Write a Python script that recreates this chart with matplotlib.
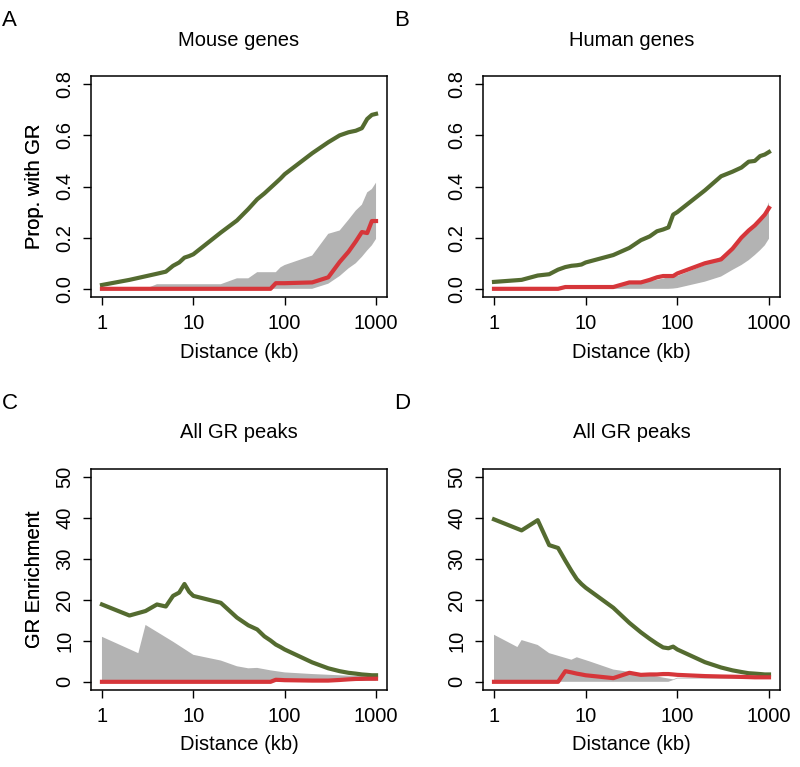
import numpy as np
import matplotlib
matplotlib.use("Agg")
import matplotlib.pyplot as plt

plt.rcParams['font.family'] = ['Liberation Sans', 'DejaVu Sans']

# ---------------- data ----------------
dist = [1, 2, 3, 4, 5, 6, 7, 8, 9, 10, 20, 30, 40, 50, 60, 70, 80, 90, 100,
        200, 300, 400, 500, 600, 700, 800, 900, 1000]

# Panel A: Mouse genes (proportion with GR)
mouse_obs = [0.015, 0.035, 0.049, 0.059, 0.067, 0.090, 0.103, 0.122, 0.128, 0.135,
             0.220, 0.267, 0.312, 0.350, 0.373, 0.395, 0.414, 0.431, 0.448,
             0.530, 0.573, 0.600, 0.612, 0.618, 0.628, 0.664, 0.680, 0.684]
mouse_ctrl = [0, 0, 0, 0, 0, 0, 0, 0, 0, 0,
              0, 0, 0, 0, 0, 0, 0.022, 0.022, 0.022,
              0.025, 0.045, 0.105, 0.145, 0.185, 0.222, 0.218, 0.265, 0.265]
mouse_hi = [0, 0, 0, 0.018, 0.018, 0.018, 0.018, 0.018, 0.018, 0.018,
            0.018, 0.041, 0.041, 0.065, 0.065, 0.065, 0.065, 0.084, 0.093,
            0.130, 0.215, 0.228, 0.270, 0.306, 0.329, 0.377, 0.390, 0.415]
mouse_lo = [0, 0, 0, 0, 0, 0, 0, 0, 0, 0,
            0, 0, 0, 0, 0, 0, 0, 0, 0,
            0, 0.020, 0.050, 0.080, 0.100, 0.125, 0.150, 0.170, 0.195]

# Panel B: Human genes
human_obs = [0.027, 0.035, 0.052, 0.057, 0.075, 0.085, 0.090, 0.092, 0.095, 0.103,
             0.132, 0.160, 0.190, 0.205, 0.225, 0.232, 0.240, 0.290, 0.300,
             0.385, 0.440, 0.458, 0.474, 0.497, 0.500, 0.519, 0.525, 0.535]
human_ctrl = [0, 0, 0, 0, 0, 0.007, 0.007, 0.007, 0.007, 0.007,
              0.007, 0.025, 0.025, 0.035, 0.045, 0.050, 0.050, 0.050, 0.060,
              0.100, 0.115, 0.157, 0.200, 0.228, 0.248, 0.270, 0.290, 0.316]
human_hi = [0, 0, 0, 0, 0, 0, 0, 0, 0, 0,
            0.012, 0.020, 0.025, 0.030, 0.035, 0.040, 0.045, 0.048, 0.050,
            0.093, 0.125, 0.160, 0.190, 0.222, 0.248, 0.274, 0.300, 0.338]
human_lo = [0, 0, 0, 0, 0, 0, 0, 0, 0, 0,
            0, 0, 0, 0, 0, 0, 0, 0.001, 0.003,
            0.028, 0.048, 0.074, 0.093, 0.112, 0.132, 0.151, 0.170, 0.196]

# Panel C: All GR peaks (enrichment)
peaksC_obs = [18.9, 16.2, 17.3, 18.9, 18.4, 21.0, 21.8, 23.9, 22.0, 21.0,
              19.3, 15.7, 13.8, 12.8, 11.1, 10.1, 9.1, 8.5, 7.9,
              4.75, 3.3, 2.6, 2.2, 2.0, 1.8, 1.7, 1.6, 1.6]
peaksC_ctrl = [0, 0, 0, 0, 0, 0, 0, 0, 0, 0,
               0, 0, 0, 0, 0, 0, 0.5, 0.45, 0.4,
               0.3, 0.3, 0.45, 0.6, 0.7, 0.72, 0.75, 0.75, 0.75]
peaksC_hi_x = [1, 2.5, 3, 6, 10, 20, 30, 40, 50, 70, 100, 200, 500, 1000]
peaksC_hi = [11.0, 7.0, 13.9, 9.8, 6.6, 5.2, 3.8, 3.3, 3.4, 2.8, 2.3, 1.9, 1.5, 1.3]
peaksC_lo_x = [1, 100, 1000]
peaksC_lo = [0, 0, 0.3]

# Panel D: All GR peaks (enrichment)
peaksD_obs = [39.7, 37.0, 39.5, 33.4, 32.7, 29.6, 27.1, 25.1, 23.9, 23.0,
              18.1, 14.4, 12.1, 10.5, 9.3, 8.4, 8.2, 8.6, 7.9,
              4.8, 3.5, 2.8, 2.4, 2.1, 2.0, 1.9, 1.8, 1.8]
peaksD_ctrl = [0, 0, 0, 0, 0, 2.6, 2.3, 2.0, 1.8, 1.6,
               0.9, 2.2, 1.7, 1.8, 1.8, 1.9, 1.9, 1.8, 1.7,
               1.4, 1.3, 1.25, 1.2, 1.15, 1.1, 1.1, 1.1, 1.1]
peaksD_hi_x = [1, 1.8, 2, 3, 4, 7, 8, 11, 20, 40, 60, 90, 100, 1000]
peaksD_hi = [11.5, 8.5, 10.2, 9.0, 7.0, 5.4, 6.0, 5.0, 3.0, 2.0, 1.3, 0.6, 1.0, 1.0]
peaksD_lo_x = [1, 80, 100, 1000]
peaksD_lo = [0, 0, 0.8, 0.8]

panel_letters = ["A", "B", "C", "D"]
titles = ["Mouse genes", "Human genes", "All GR peaks", "All GR peaks"]
ylabels = ["Prop. with GR", "Prop. with GR", "GR Enrichment", "GR Enrichment"]
xlabel = "Distance (kb)"
xticks = [1, 10, 100, 1000]
xticklabels = ["1", "10", "100", "1000"]
yticks_prop = [0.0, 0.2, 0.4, 0.6, 0.8]
yticklabels_prop = ["0.0", "0.2", "0.4", "0.6", "0.8"]
yticks_enr = [0, 10, 20, 30, 40, 50]
yticklabels_enr = ["0", "10", "20", "30", "40", "50"]

GREEN = "#546B30"
RED = "#D6363A"
GRAY = "#B3B3B3"

W, H = 800, 767
fig = plt.figure(figsize=(W / 100, H / 100), dpi=100)

# axes boxes in pixels: (left, top, right, bottom)
boxes = [(91, 76, 387, 297), (483, 76, 780, 297),
         (91, 469, 387, 690), (483, 469, 780, 690)]
letter_y = [21, 21, 403, 403]

panels = [
    (dist, mouse_obs, dist, mouse_ctrl, dist, mouse_hi, dist, mouse_lo, 'prop'),
    (dist, human_obs, dist, human_ctrl, dist, human_hi, dist, human_lo, 'prop'),
    (dist, peaksC_obs, dist, peaksC_ctrl, peaksC_hi_x, peaksC_hi, peaksC_lo_x, peaksC_lo, 'enr'),
    (dist, peaksD_obs, dist, peaksD_ctrl, peaksD_hi_x, peaksD_hi, peaksD_lo_x, peaksD_lo, 'enr'),
]

FS = 14.5
for i, (box, p) in enumerate(zip(boxes, panels)):
    l, t, r, b = box
    ax = fig.add_axes([l / W, 1 - b / H, (r - l) / W, (b - t) / H])
    xo, yo, xc, yc, xh, yh, xl, yl, kind = p
    px = np.concatenate([np.asarray(xh, float), np.asarray(xl, float)[::-1]])
    py = np.concatenate([np.asarray(yh, float), np.asarray(yl, float)[::-1]])
    ax.fill(px, py, color=GRAY, lw=0, zorder=1)
    ax.plot(xo, yo, color=GREEN, lw=3.0, solid_joinstyle='round', zorder=3)
    ax.plot(xc, yc, color=RED, lw=3.0, solid_joinstyle='round', zorder=4)

    ax.set_xscale('log')
    ax.set_xlim(10 ** -0.12, 10 ** 3.12)
    ax.set_xticks(xticks)
    ax.set_xticklabels(xticklabels)
    ax.xaxis.set_minor_locator(matplotlib.ticker.NullLocator())
    if kind == 'prop':
        ax.set_ylim(-0.032, 0.832)
        ax.set_yticks(yticks_prop)
        ax.set_yticklabels(yticklabels_prop)
    else:
        ax.set_ylim(-2, 52)
        ax.set_yticks(yticks_enr)
        ax.set_yticklabels(yticklabels_enr)

    ax.tick_params(axis='both', direction='out', length=6, width=1.0,
                   labelsize=FS, color='black')
    ax.tick_params(axis='x', pad=6)
    ax.tick_params(axis='y', pad=6, labelrotation=90)
    for lab in ax.get_yticklabels():
        lab.set_va('center')
    for s in ax.spines.values():
        s.set_linewidth(1.1)

    ax.set_xlabel(xlabel, fontsize=FS)
    ax.xaxis.set_label_coords(0.5, -55 / (b - t))
    ax.xaxis.label.set_va('center')
    ax.set_ylabel(ylabels[i], fontsize=FS)
    ax.yaxis.set_label_coords((35 - l) / (r - l), 0.5)
    ax.yaxis.label.set_va('center')

    cx = (l + r) / 2
    fig.text(cx / W, 1 - (t - 36) / H, titles[i], fontsize=FS,
             ha='center', va='center')
    fig.text((l - 89) / W, 1 - letter_y[i] / H, panel_letters[i], fontsize=16,
             ha='left', va='center')

fig.savefig("out.png", dpi=100, facecolor='white')
